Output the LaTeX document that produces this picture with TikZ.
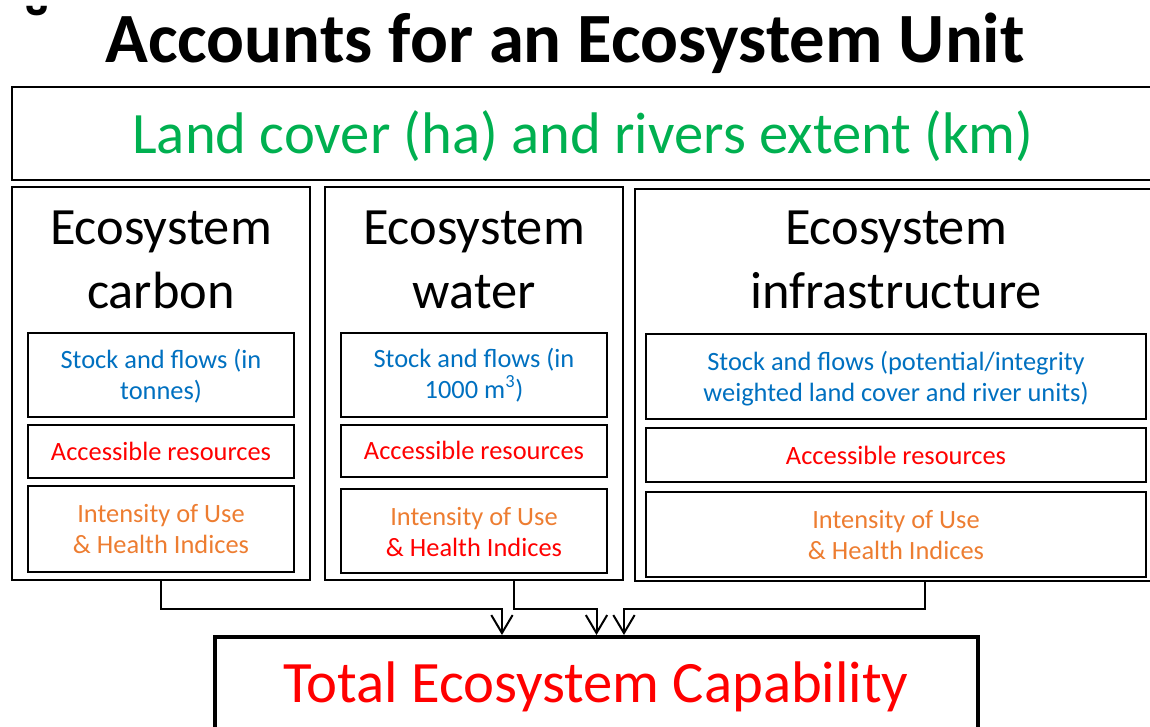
\documentclass[tikz,border=0pt]{standalone}
\usepackage{fontspec}
\setmainfont{Carlito}
\usetikzlibrary{fit,arrows.meta}
\definecolor{cgreen}{RGB}{0,176,80}
\definecolor{cblue}{RGB}{0,112,192}
\definecolor{cred}{RGB}{255,0,0}
\definecolor{corange}{RGB}{237,125,49}
\begin{document}
\begin{tikzpicture}[x=0.75pt,y=-0.75pt,
  outerbox/.style={draw, line width=2pt, inner sep=0pt, rectangle},
  innerbox/.style={draw, line width=1.5pt, inner sep=0pt, rectangle},
  bandbox/.style={draw, line width=1.6pt, inner sep=0pt, rectangle},
  totalbox/.style={draw, line width=3pt, inner sep=0pt, rectangle},
  headtext/.style={font=\fontsize{53}{60}\selectfont\bfseries, anchor=base, inner sep=0pt},
  bandtext/.style={font=\fontsize{44}{50}\selectfont, text=cgreen, anchor=base, inner sep=0pt},
  coltitle/.style={font=\fontsize{39.3}{48}\selectfont, anchor=base, inner sep=0pt, align=center},
  smalltext/.style={font=\fontsize{19.8}{23.25}\selectfont, anchor=base, inner sep=0pt, align=center},
  totaltext/.style={font=\fontsize{44}{48}\selectfont, text=cred, anchor=base, inner sep=0pt},
  conn/.style={draw, line width=1.5pt, -{Straight Barb[length=13.5pt,width=16pt,line width=1.5pt]}}
]
\useasboundingbox (0,0) rectangle (1150,726);
\clip (0,0) rectangle (1150,726);

% stray glyph and title
\node[font=\fontsize{53}{60}\selectfont\bfseries, inner sep=0pt] (breve) at (37,30) {˘};
\node[headtext] (title) at (565,62) {Accounts for an Ecosystem Unit};

% land cover band
\node[bandbox, fit={(12,87) (1170,180)}] (band) {};
\node[bandtext] (bandlbl) at (583,153) {Land cover (ha) and rivers extent (km)};

% carbon column
\node[outerbox, fit={(12,187) (310,580)}] (carbon) {};
\node[coltitle] (carbonT) at (161,308) {Ecosystem\\carbon};
\node[innerbox, fit={(28,333) (294,417)}] (cstock) {};
\node[smalltext, text=cblue] (cstockT) at (161,399) {Stock and flows (in\\tonnes)};
\node[innerbox, fit={(28,425) (294,478)}] (cacc) {};
\node[smalltext, text=cred] (caccT) at (161,460) {Accessible resources};
\node[innerbox, fit={(28,486) (294,572)}] (cint) {};
\node[smalltext, text=corange] (cintT) at (161,553) {Intensity of Use\\\& Health Indices};

% water column
\node[outerbox, fit={(325,187) (623,580)}] (water) {};
\node[coltitle] (waterT) at (474,308) {Ecosystem\\water};
\node[innerbox, fit={(341,333) (607,417)}] (wstock) {};
\node[smalltext, text=cblue] (wstockT) at (474,398) {Stock and flows (in\\1000 m\textsuperscript{3})};
\node[innerbox, fit={(341,425) (607,477)}] (wacc) {};
\node[smalltext, text=cred] (waccT) at (474,459) {Accessible resources};
\node[innerbox, fit={(341,489) (607,573)}] (wint) {};
\node[smalltext] (wintT) at (474,556) {\textcolor{corange}{Intensity of Use}\\\textcolor{cred}{\& Health Indices}};

% infrastructure column
\node[outerbox, fit={(635,189) (1160,581)}] (infra) {};
\node[coltitle] (infraT) at (896,308) {Ecosystem\\infrastructure};
\node[innerbox, fit={(646,334) (1146,419)}] (istock) {};
\node[smalltext, text=cblue] (istockT) at (896,401) {Stock and flows (potential/integrity\\weighted land cover and river units)};
\node[innerbox, fit={(646,428) (1146,482)}] (iacc) {};
\node[smalltext, text=cred] (iaccT) at (896,464) {Accessible resources};
\node[innerbox, fit={(646,492) (1146,577)}] (iint) {};
\node[smalltext, text=corange] (iintT) at (896,559) {Intensity of Use\\\& Health Indices};

% total
\node[totalbox, fit={(215,637) (978,780)}] (total) {};
\node[totaltext] (totalT) at (596,702) {Total Ecosystem Capability};

% connectors
\draw[conn] (carbon.south) -- ++(0,28) -| ([xshift=-70.9pt]total.north);
\draw[conn] ([xshift=30pt]water.south) -- ++(0,28) -| (total.north);
\draw[conn] ([xshift=20.6pt]infra.south) -- ++(0,27) -| ([xshift=20.6pt]total.north);
\end{tikzpicture}
\end{document}
